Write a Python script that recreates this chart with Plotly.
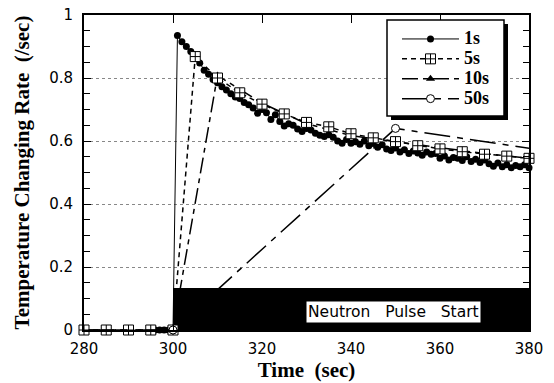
import plotly.graph_objects as go

# ---------------- data ----------------
t_1s = list(range(296, 381))
v_1s = [0, 0, 0, 0, 0,
        0.935, 0.915, 0.900, 0.884, 0.868, 0.848, 0.825, 0.812, 0.795, 0.785,
        0.772, 0.762, 0.750, 0.740, 0.735, 0.722, 0.715, 0.705, 0.688, 0.700,
        0.690, 0.668, 0.683, 0.662, 0.648, 0.655, 0.650, 0.638, 0.630, 0.640,
        0.635, 0.625, 0.618, 0.614, 0.620, 0.612, 0.600, 0.593, 0.605, 0.593,
        0.598, 0.590, 0.600, 0.585, 0.592, 0.580, 0.588, 0.575, 0.570, 0.578,
        0.565, 0.572, 0.560, 0.568, 0.562, 0.555, 0.565, 0.558, 0.560, 0.545,
        0.552, 0.540, 0.548, 0.545, 0.538, 0.550, 0.535, 0.542, 0.532, 0.540,
        0.528, 0.520, 0.530, 0.518, 0.525, 0.515, 0.522, 0.518, 0.525, 0.515]

t_5s = list(range(280, 381, 5))
v_5s = [0, 0, 0, 0, 0, 0.868, 0.800, 0.753, 0.717, 0.686, 0.659, 0.645,
        0.623, 0.610, 0.598, 0.585, 0.575, 0.566, 0.558, 0.552, 0.545]

t_10s = list(range(280, 381, 10))
v_10s = [0, 0, 0, 0.808, 0.720, 0.655, 0.617, 0.598, 0.578, 0.560, 0.545]

t_50s = [250, 300, 350, 400]
v_50s = [0, 0, 0.640, 0.535]

series_names = ["1s", "5s", "10s", "50s"]
x_ticks = [280, 300, 320, 340, 360, 380]
y_ticks = [0, 0.2, 0.4, 0.6, 0.8, 1]

pulse_start, pulse_end, pulse_level = 300, 380, 0.133
pulse_label = "Neutron\u00a0\u00a0\u00a0Pulse\u00a0\u00a0\u00a0Start"
pulse_label_x, pulse_label_y = 349.6, 0.057

# ---------------- figure ----------------
W, H = 554, 383
ML, MR, MT, MB = 84, 25, 15, 53
PW, PH = W - ML - MR, H - MT - MB


def px_x(p):
    return (p - ML) / PW


def px_y(p):
    return (H - MB - p) / PH


def leg_name(s):
    return '<span style="font-size:18px">' + s + '</span>'


fig = go.Figure()

fig.add_trace(go.Scatter(
    x=t_1s, y=v_1s, name=leg_name(series_names[0]), mode="lines+markers",
    line=dict(color="black", width=1),
    marker=dict(symbol="circle", size=7, color="black"),
    legendgroup="a", legendrank=1, cliponaxis=False))
fig.add_trace(go.Scatter(
    x=t_10s, y=v_10s, name=leg_name(series_names[2]), mode="lines+markers",
    line=dict(color="black", width=1.5, dash="16px,5px,5px,5px"),
    marker=dict(symbol="triangle-up", size=8, color="black"),
    legendgroup="c", legendrank=3, cliponaxis=False))
fig.add_trace(go.Scatter(
    x=t_5s, y=v_5s, name=leg_name(series_names[1]), mode="lines+markers",
    line=dict(color="black", width=1.5, dash="5px,4px"),
    marker=dict(symbol="square-cross", size=10, color="white",
                line=dict(color="black", width=1)),
    legendgroup="b", legendrank=2, cliponaxis=False))
fig.add_trace(go.Scatter(
    x=t_50s, y=v_50s, name=leg_name(series_names[3]), mode="lines+markers",
    line=dict(color="black", width=1.5, dash="26px,7px,6px,7px"),
    marker=dict(symbol="circle", size=8, color="white",
                line=dict(color="black", width=1)),
    legendgroup="d", legendrank=4, cliponaxis=False))

# neutron pulse bar
fig.add_shape(type="rect", xref="x", yref="y",
              x0=pulse_start, x1=pulse_end, y0=0, y1=pulse_level,
              fillcolor="black", line=dict(width=0), layer="below")
fig.add_annotation(x=pulse_label_x, y=pulse_label_y, xref="x", yref="y",
                   text=pulse_label, showarrow=False, bgcolor="white",
                   borderpad=1,
                   font=dict(family="DejaVu Sans", size=15.5, color="black"))

# legend box with shadow
fig.add_shape(type="rect", xref="paper", yref="paper",
              x0=px_x(391), x1=px_x(508), y0=px_y(120), y1=px_y(24),
              fillcolor="black", line=dict(width=0), layer="above")
fig.add_shape(type="rect", xref="paper", yref="paper",
              x0=px_x(387), x1=px_x(504), y0=px_y(116), y1=px_y(20),
              fillcolor="white", line=dict(color="black", width=1.5),
              layer="above")

axis_common = dict(showline=True, linecolor="black", linewidth=2,
                   mirror="ticks", ticks="inside", tickcolor="black",
                   tickwidth=1, zeroline=False, automargin=False,
                   ticklabeloverflow="allow",
                   tickfont=dict(family="DejaVu Sans", size=15, color="black"))

fig.update_xaxes(range=[280, 380], tickvals=x_ticks, ticklen=8,
                 showgrid=False, ticklabelstandoff=4,
                 title=dict(text="Time\u00a0\u00a0(sec)", standoff=4,
                            font=dict(family="Liberation Serif", size=21,
                                      weight="bold", color="black")),
                 **axis_common)
fig.update_yaxes(range=[0, 1], tickvals=y_ticks, ticklen=7,
                 showgrid=True, gridcolor="#888", gridwidth=1, griddash="dot",
                 minor=dict(dtick=0.05, ticks="inside", ticklen=6,
                            tickcolor="black", showgrid=False),
                 ticklabelstandoff=6,
                 title=dict(text="Temperature\u00a0Changing\u00a0Rate\u00a0\u00a0(/sec)",
                            standoff=14,
                            font=dict(family="Liberation Serif", size=21,
                                      weight="bold", color="black")),
                 **axis_common)

fig.update_layout(
    width=W, height=H,
    margin=dict(l=ML, r=MR, t=MT, b=MB),
    plot_bgcolor="white", paper_bgcolor="white",
    showlegend=True,
    legend=dict(x=px_x(397), y=px_y(24), xanchor="left", yanchor="top",
                bgcolor="rgba(0,0,0,0)", borderwidth=0,
                itemwidth=57, tracegroupgap=0,
                font=dict(family="Liberation Serif", size=13, weight="bold",
                          color="black")),
)

fig.write_html("out.html",
               config={"displayModeBar": False},
               post_script="document.body.style.margin='0px';")
